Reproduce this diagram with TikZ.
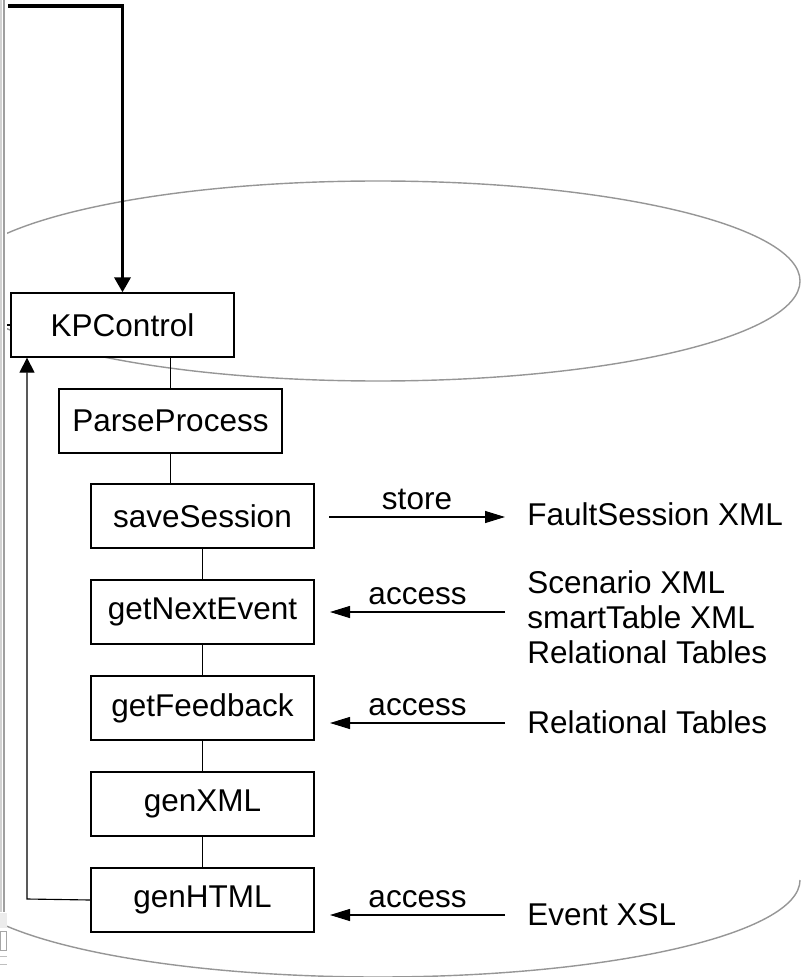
\documentclass[tikz,border=0pt]{standalone}
\usepackage{fontspec}
\setmainfont{Liberation Sans}
\usetikzlibrary{arrows.meta}
\definecolor{cylgray}{RGB}{150,150,150}

\begin{document}
\begin{tikzpicture}[x=0.025cm,y=-0.025cm,
    every node/.style={font=\fontsize{22.4}{24.9}\selectfont},
    box/.style={draw,line width=0.9pt,fill=white,minimum width=5.575cm,minimum height=1.6cm,inner sep=0pt},
    link/.style={line width=0.8pt},
    dataflow/.style={line width=0.8pt,-{Triangle[length=5mm,width=3mm]}},
    lbl/.style={anchor=base west,inner sep=0pt,align=left}]
        \useasboundingbox (0,0) rectangle (802,977);
        \fill[gray!35] (0,0) rectangle (2,912);
        \fill[gray!75] (3,0) rectangle (5,912);
        \fill[gray!15] (0,913) rectangle (7,928);
        \draw[gray!70] (0.5,931) rectangle (6,950);
        \draw[gray!50] (0,956) -- (7,956) (0,964) -- (7,964);
        \clip (7,0) rectangle (802,977);
        \draw[cylgray,line width=1pt] (378,281) ellipse [x radius=422, y radius=100];
        \draw[cylgray,line width=1pt] (800,880) arc [start angle=0, end angle=180, x radius=422, y radius=97];
        \node[box] (kp) at (122.5,325) {KPControl};
        \node[box] (parse) at (170.5,421) {ParseProcess};
        \node[box] (save) at (202.5,516) {saveSession};
        \node[box] (next) at (202.5,612) {getNextEvent};
        \node[box] (feed) at (202.5,708) {getFeedback};
        \node[box] (xml) at (202.5,804) {genXML};
        \node[box] (html) at (202.5,900) {genHTML};
        \draw[link] (parse.north) -- (parse.north |- kp.south);
        \draw[link] (parse.south) -- (parse.south |- save.north);
        \draw[link] (save.south) -- (next.north);
        \draw[link] (next.south) -- (feed.north);
        \draw[link] (feed.south) -- (xml.north);
        \draw[link] (xml.south) -- (html.north);
        \coordinate (src) at (8,6);
        \draw[line width=2.4pt,-{Triangle[length=3.75mm,width=4mm]}] (src) -| (kp.north);
        \coordinate (back) at (27,899);
        \draw[link,-{Triangle[length=3.75mm,width=3.75mm]}] (html.west) -- (back) -- (back |- kp.south);
        \coordinate (stub) at (7,325);
        \draw[link] (kp.west) -- (stub);
        \node[lbl] (fault) at (527,525) {FaultSession XML};
        \node[lbl,anchor=north west] (scen) at (527,570) {Scenario XML\\smartTable XML\\Relational Tables};
        \node[lbl] (rel) at (527,733) {Relational Tables};
        \node[lbl] (xsl) at (527,925) {Event XSL};
        \coordinate (s0) at (329,517);
        \coordinate (s1) at (505,517);
        \draw[dataflow] (s0) -- node[above,inner sep=5pt] {store} (s1);
        \coordinate (n0) at (330,612);
        \coordinate (n1) at (505,612);
        \draw[dataflow] (n1) -- node[above,inner sep=5pt] {access} (n0);
        \coordinate (f0) at (330,723);
        \coordinate (f1) at (505,723);
        \draw[dataflow] (f1) -- node[above,inner sep=5pt] {access} (f0);
        \coordinate (h0) at (330,915);
        \coordinate (h1) at (505,915);
        \draw[dataflow] (h1) -- node[above,inner sep=5pt] {access} (h0);
      \end{tikzpicture}
\end{document}
